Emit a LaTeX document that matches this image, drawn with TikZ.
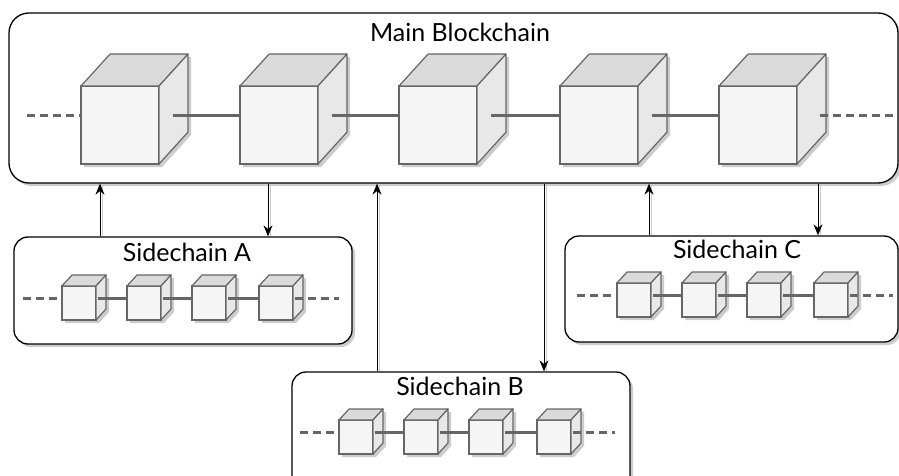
\documentclass[tikz,border=0pt]{standalone}
\usepackage{fontspec}
\setmainfont{Lato}
\usetikzlibrary{arrows.meta,shadows}

\definecolor{cubeline}{HTML}{666666}
\definecolor{cubefront}{HTML}{F5F5F5}
\definecolor{cubetop}{HTML}{DADADA}
\definecolor{cubeside}{HTML}{E8E8E8}
\definecolor{shade}{HTML}{CCCCCC}

\tikzset{
  chainbox/.style={draw=black, line width=1.3pt, fill=white, rounded corners=#1,
    drop shadow={shadow xshift=3pt, shadow yshift=-3pt, opacity=1, fill=shade}},
  chainbox/.default=14pt,
  frontface/.style={draw=cubeline, line width=1.2pt, fill=cubefront, inner sep=0pt, outer sep=0pt, anchor=north west},
  topface/.style={draw=cubeline, line width=1.2pt, fill=cubetop, line join=round},
  sideface/.style={draw=cubeline, line width=1.2pt, fill=cubeside, line join=round},
  cubeshadow/.style={fill=shade},
  link/.style={draw=cubeline, line width=#1},
  link/.default=3pt,
  openlink/.style={draw=cubeline, line width=#1, dash pattern=on 8pt off 5pt},
  openlink/.default=3pt,
  flow/.style={draw=black, line width=1pt, -{Stealth[length=11pt,width=9pt]}},
  flowshade/.style={draw=shade, line width=1.2pt},
  title/.style={font=\fontsize{#1}{#1}\selectfont, inner sep=0pt},
  title/.default=25pt
}

% A block drawn as a cube: name, front-face left, front-face top, edge, depth
\newcommand\blockcube[5]{%
  \pgfmathsetmacro\cx{#2}\pgfmathsetmacro\cy{#3}%
  \pgfmathsetmacro\cs{#4}\pgfmathsetmacro\cd{#5}\pgfmathsetmacro\ce{1.1*#5}%
  \fill[cubeshadow] (\cx+3,\cy+\cs+3) -- (\cx+3,\cy+3) -- (\cx+\cd+3,\cy-\ce+3)
    -- (\cx+\cs+\cd+3,\cy-\ce+3) -- (\cx+\cs+\cd+3,\cy+\cs-\ce+3) -- (\cx+\cs+3,\cy+\cs+3) -- cycle;
  \node[frontface, minimum width=\cs pt, minimum height=\cs pt] (#1) at (\cx,\cy) {};
  \path[topface] (#1.north west) -- ++(\cd,-\ce) -- ++(\cs,0) -- (#1.north east) -- cycle;
  \path[sideface] (#1.north east) -- ++(\cd,-\ce) -- ++(0,\cs) -- (#1.south east) -- cycle;
}

\begin{document}
\begin{tikzpicture}[x=1pt, y=-1pt]
\useasboundingbox (0,0) rectangle (899,476);
\clip (0,0) rectangle (899,476);

% column positions of the links between the chains
\coordinate (xa1) at (100,0);
\coordinate (xa2) at (268,0);
\coordinate (xb1) at (377,0);
\coordinate (xb2) at (544,0);
\coordinate (xc1) at (649,0);
\coordinate (xc2) at (818,0);

% frames
\node[chainbox=20pt, minimum width=889pt, minimum height=170pt] (main) at (453.5,98) {};
\node[chainbox, minimum width=338pt, minimum height=107pt] (sa) at (183,290.5) {};
\node[chainbox, minimum width=338pt, minimum height=130pt] (sb) at (461,437) {};
\node[chainbox, minimum width=333pt, minimum height=106pt] (sc) at (731.5,289) {};

\node[title] (tmain) at (460,32) {Main Blockchain};
\node[title] (ta) at (187,252) {Sidechain A};
\node[title] (tb) at (460,386) {Sidechain B};
\node[title] (tc) at (737,249) {Sidechain C};

% main chain
\coordinate (ml) at (27,116);
\coordinate (mr) at (896,116);
\draw[openlink] (ml) -- (81,116);
\foreach \i/\x in {1/81,2/240,3/399,4/560,5/719}{
  \blockcube{m\i}{\x}{86}{78}{29}
}
\foreach \a/\b in {m1/m2,m2/m3,m3/m4,m4/m5}{
  \draw[link] ([shift={(14,-9)}]\a.east) -- ([shift={(0,-9)}]\b.west);
}
\draw[openlink] ([shift={(23,-9)}]m5.east) -- (mr);

% sidechains
\foreach \s/\y/\xa/\xb/\xc/\xd/\l/\r in {a/286/62/127/192/259/23/339, b/420/339/404/469/537/300/615, c/283/617/682/747/814/577/893}{
  \coordinate (\s l) at (\l,\y+12);
  \coordinate (\s r) at (\r,\y+12);
  \draw[openlink] (\s l) -- (\xa,\y+12);
  \blockcube{\s1}{\xa}{\y}{34}{10}
  \blockcube{\s2}{\xb}{\y}{34}{10}
  \blockcube{\s3}{\xc}{\y}{34}{10}
  \blockcube{\s4}{\xd}{\y}{34}{10}
  \draw[link] ([shift={(2,-5)}]\s1.east) -- ([shift={(0,-5)}]\s2.west);
  \draw[link] ([shift={(2,-5)}]\s2.east) -- ([shift={(0,-5)}]\s3.west);
  \draw[link] ([shift={(2,-5)}]\s3.east) -- ([shift={(0,-5)}]\s4.west);
  \draw[openlink] ([shift={(2,-5)}]\s4.east) -- (\s r);
}

% links between the chains
\foreach \c/\s in {xa1/sa, xa2/sa, xb1/sb, xb2/sb, xc1/sc, xc2/sc}{
  \draw[flowshade] ([xshift=2.5pt]\s.north -| \c) -- ([xshift=2.5pt]main.south -| \c);
}
\draw[flow] (sa.north -| xa1) -- (main.south -| xa1);
\draw[flow] (main.south -| xa2) -- (sa.north -| xa2);
\draw[flow] (sb.north -| xb1) -- (main.south -| xb1);
\draw[flow] (main.south -| xb2) -- (sb.north -| xb2);
\draw[flow] (sc.north -| xc1) -- (main.south -| xc1);
\draw[flow] (main.south -| xc2) -- (sc.north -| xc2);
\end{tikzpicture}
\end{document}
